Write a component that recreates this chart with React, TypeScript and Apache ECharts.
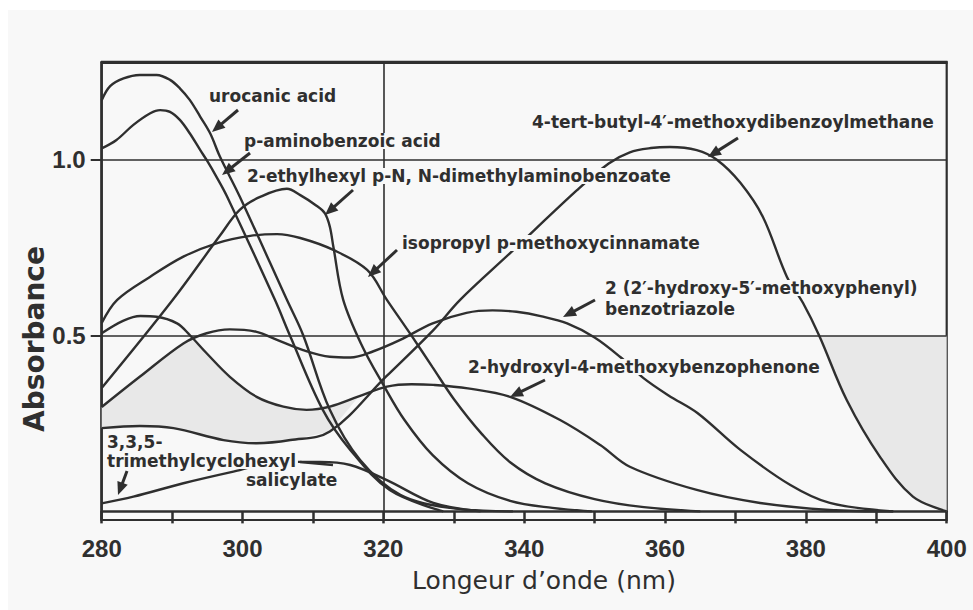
import React, { useEffect, useRef } from 'react';
import * as echarts from 'echarts';

type P = [number, number];

// ---- axes ----
const X_MIN = 280;
const X_MAX = 400;
const X_STEP = 10;
const Y_MIN = -0.0245;
const Y_MAX = 1.278;
const Y_TICK_LABELS = [0.5, 1.0];
const REF_X = [320];
const REF_Y = [0.5, 1.0];

// ---- spectra (wavelength nm, absorbance) ----
const UROCANIC: P[] = [
  [280, 1.17], [281.2, 1.21], [283.1, 1.232], [285.4, 1.242], [287.8, 1.242], [289.7, 1.228],
  [291.1, 1.204], [292.5, 1.171], [294, 1.123], [295.4, 1.076], [296.8, 1.009], [299.6, 0.896],
  [306.3, 0.602], [308.6, 0.502], [312.4, 0.289], [316.7, 0.146], [322.4, 0.047], [329.5, 0.01], [338.4, 0],
];
const PABA: P[] = [
  [280, 1.033], [282.1, 1.057], [284.5, 1.1], [286.9, 1.133], [288.3, 1.142], [289.7, 1.137],
  [291.1, 1.114], [292.5, 1.076], [294, 1.028], [294.9, 1.0], [296.3, 0.952], [297.8, 0.896],
  [304.6, 0.602], [306.7, 0.502], [311.4, 0.289], [315.3, 0.175], [320.9, 0.061], [328.5, 0],
];
const ETHYLHEXYL: P[] = [
  [280, 0.351], [290.1, 0.602], [296.8, 0.785], [299.6, 0.858], [302.5, 0.895], [306.3, 0.918],
  [308.2, 0.9], [310.5, 0.87], [311.7, 0.848], [312.4, 0.81], [312.9, 0.753], [314.3, 0.602],
  [317, 0.47], [320, 0.36], [323, 0.26], [327, 0.16], [332, 0.08], [338, 0.03], [344, 0.01], [349.6, 0],
];
const ISOPROPYL: P[] = [
  [280, 0.536], [282.2, 0.602], [286.9, 0.668], [291.6, 0.725], [296.3, 0.763], [301.1, 0.784],
  [304.9, 0.789], [308.2, 0.778], [312.9, 0.744], [317.7, 0.687], [320.5, 0.602], [324, 0.5],
  [327, 0.41], [330, 0.32], [334, 0.22], [338, 0.14], [343, 0.08], [350, 0.035], [357, 0.012], [365, 0],
];
const AVOBENZONE: P[] = [
  [280, 0.237], [285.4, 0.243], [290.2, 0.237], [297.3, 0.203], [302, 0.194], [306.8, 0.203],
  [312.4, 0.227], [320.4, 0.384], [327.1, 0.516], [330.9, 0.602], [338, 0.735], [347.5, 0.914],
  [352, 0.99], [355, 1.022], [358, 1.034], [360.7, 1.037], [364.5, 1.028], [367.4, 1.0],
  [370.7, 0.935], [373.9, 0.838], [377.3, 0.668], [379.6, 0.593], [381.9, 0.5], [385.8, 0.317],
  [390.5, 0.156], [395.2, 0.042], [400, 0],
];
const BENZOTRIAZOLE: P[] = [
  [280, 0.297], [285.4, 0.383], [291.6, 0.478], [294.9, 0.507], [298.2, 0.518], [302, 0.511],
  [304.9, 0.488], [308.6, 0.459], [312.4, 0.44], [315.3, 0.438], [318.5, 0.455], [322.4, 0.488],
  [327, 0.535], [331.8, 0.565], [335.5, 0.572], [338.9, 0.568], [342.5, 0.555], [346.1, 0.535],
  [350, 0.495], [353.6, 0.44], [356.9, 0.38], [360.5, 0.33], [364.6, 0.28], [370.7, 0.175],
  [377.8, 0.075], [383.4, 0.024], [392.4, 0],
];
const OXYBENZONE: P[] = [
  [280, 0.507], [283.1, 0.543], [285.5, 0.556], [287.8, 0.554], [290.7, 0.535], [292.5, 0.502],
  [294.9, 0.45], [298.2, 0.383], [302, 0.326], [305.8, 0.298], [309.1, 0.289], [312.4, 0.298],
  [316.5, 0.327], [320.5, 0.355], [324, 0.362], [327.1, 0.36], [332, 0.35], [338, 0.326],
  [345.1, 0.26], [350.8, 0.189], [355, 0.127], [364.5, 0.061], [373.5, 0.024], [383.4, 0.004], [392.4, 0],
];
const SALICYLATE: P[] = [
  [280, 0.023], [284.5, 0.042], [291.6, 0.08], [298.7, 0.113], [305.3, 0.141], [311, 0.141],
  [315.3, 0.132], [320.5, 0.089], [327.1, 0.024], [333.8, 0],
];

const CURVES: { name: string; data: P[] }[] = [
  { name: 'urocanic acid', data: UROCANIC },
  { name: 'p-aminobenzoic acid', data: PABA },
  { name: '2-ethylhexyl p-N, N-dimethylaminobenzoate', data: ETHYLHEXYL },
  { name: 'isopropyl p-methoxycinnamate', data: ISOPROPYL },
  { name: '4-tert-butyl-4′-methoxydibenzoylmethane', data: AVOBENZONE },
  { name: '2 (2′-hydroxy-5′-methoxyphenyl) benzotriazole', data: BENZOTRIAZOLE },
  { name: '2-hydroxyl-4-methoxybenzophenone', data: OXYBENZONE },
  { name: '3,3,5-trimethylcyclohexyl salicylate', data: SALICYLATE },
];

// ---- annotation texts (layout) ----
const LABELS = [
  { t: 'urocanic acid', x: 208, y: 96 },
  { t: 'p-aminobenzoic acid', x: 243, y: 141 },
  { t: '2-ethylhexyl p-N, N-dimethylaminobenzoate', x: 246, y: 176 },
  { t: '4-tert-butyl-4′-methoxydibenzoylmethane', x: 531, y: 122 },
  { t: 'isopropyl p-methoxycinnamate', x: 401, y: 243 },
  { t: '2 (2′-hydroxy-5′-methoxyphenyl)', x: 604, y: 288 },
  { t: 'benzotriazole', x: 604, y: 309 },
  { t: '2-hydroxyl-4-methoxybenzophenone', x: 467, y: 367 },
  { t: '3,3,5-', x: 106, y: 442 },
  { t: 'trimethylcyclohexyl', x: 106, y: 461 },
  { t: 'salicylate', x: 245, y: 480 },
];
const ARROWS: number[][] = [
  [238, 110, 212, 132],
  [250, 153, 222, 175],
  [353, 190, 325, 215],
  [738, 138, 708, 157],
  [397, 250, 368, 277],
  [595, 300, 563, 317],
  [545, 380, 510, 397],
  [127, 471, 118, 495],
];
const LEADER = [300, 462, 333, 465];

const INK = '#2f2f2f';
const BG = '#f8f8f8';
const SHADE = '#e8e8e8';

function arrowEls(a: number[]) {
  const [x1, y1, x2, y2] = a;
  const dx = x2 - x1, dy = y2 - y1;
  const len = Math.hypot(dx, dy);
  const ux = dx / len, uy = dy / len;
  const px = -uy, py = ux;
  const hl = 13, hw = 5.5;
  const bx = x2 - ux * hl, by = y2 - uy * hl;
  return [
    {
      type: 'line', z: 120, silent: true,
      shape: { x1, y1, x2: bx + ux * 2, y2: by + uy * 2 },
      style: { stroke: INK, lineWidth: 3 },
    },
    {
      type: 'polygon', z: 120, silent: true,
      shape: { points: [[x2, y2], [bx + px * hw, by + py * hw], [bx - px * hw, by - py * hw]] },
      style: { fill: INK },
    },
  ];
}

function shadeSeries(points: P[]) {
  return {
    type: 'custom',
    silent: true,
    z: 1,
    clip: true,
    data: [[X_MIN, 0]],
    renderItem: (_p: any, api: any) => ({
      type: 'polygon',
      shape: { points: points.map((p) => api.coord(p)) },
      style: { fill: SHADE },
    }),
  };
}

export default function App() {
  const ref = useRef<HTMLDivElement>(null);
  useEffect(() => {
    if (!ref.current) return;
    const chart = echarts.init(ref.current, undefined, { renderer: 'svg' });

    const shadeLeft: P[] = [
      ...BENZOTRIAZOLE.filter((p) => p[0] < 292.9),
      [292.9, 0.495],
      ...OXYBENZONE.filter((p) => p[0] > 292.9 && p[0] < 316.5),
      [316.5, 0.327],
      ...AVOBENZONE.filter((p) => p[0] < 316.5).slice().reverse(),
    ];
    const shadeRight: P[] = [
      ...AVOBENZONE.filter((p) => p[0] >= 381.9),
      [X_MAX, 0.5],
    ];

    const graphic: any[] = [
      {
        type: 'rect', z: -10, silent: true,
        shape: { x: 8, y: 10, width: 965, height: 600 },
        style: { fill: BG },
      },
      {
        type: 'line', z: 5, silent: true,
        shape: { x1: 101, y1: 62.3, x2: 947.5, y2: 62.3 },
        style: { stroke: INK, lineWidth: 3.2 },
      },
      {
        type: 'text', z: 110, silent: true,
        x: 34, y: 339, rotation: Math.PI / 2,
        style: {
          text: 'Absorbance', fill: INK, fontFamily: '"DejaVu Sans", sans-serif',
          fontWeight: 'bold', fontSize: 28, align: 'center', verticalAlign: 'middle',
        },
      },
      {
        type: 'text', z: 110, silent: true,
        x: 544, y: 580,
        style: {
          text: 'Longeur d\u2019onde (nm)', fill: INK, fontFamily: '"DejaVu Sans", sans-serif',
          fontWeight: 'normal', fontSize: 25, align: 'center', verticalAlign: 'middle',
        },
      },
      ...LABELS.map((l) => ({
        type: 'text', z: 110, silent: true,
        x: l.x, y: l.y,
        style: {
          text: l.t, fill: INK, fontFamily: '"DejaVu Sans", sans-serif', fontWeight: 'bold',
          fontSize: 17, lineHeight: 16, align: 'left', verticalAlign: 'middle',
          backgroundColor: BG, padding: [0, 2, 0, 1],
        },
      })),
      ...ARROWS.flatMap(arrowEls),
      {
        type: 'line', z: 120, silent: true,
        shape: { x1: LEADER[0], y1: LEADER[1], x2: LEADER[2], y2: LEADER[3] },
        style: { stroke: INK, lineWidth: 2.5 },
      },
    ];

    const tickFont = '"Liberation Sans", Arial, sans-serif';

    const option: any = {
      animation: false,
      backgroundColor: '#ffffff',
      grid: {
        left: 101.7, right: 26.3, top: 62.3, bottom: 90,
        show: true, borderColor: INK, borderWidth: 2.2, backgroundColor: 'transparent',
      },
      xAxis: {
        type: 'value', min: X_MIN, max: X_MAX, interval: X_STEP,
        axisLine: { show: true, lineStyle: { color: INK, width: 2.5 } },
        axisTick: { show: true, inside: false, length: 12, lineStyle: { color: INK, width: 2.5 } },
        axisLabel: {
          formatter: (v: number) => (v % 20 === 0 ? String(v) : ''),
          fontFamily: tickFont, fontWeight: 'bold', fontSize: 24, color: INK, margin: 16,
        },
        splitLine: { show: false },
      },
      yAxis: {
        type: 'value', min: Y_MIN, max: Y_MAX,
        axisLine: { show: true, lineStyle: { color: INK, width: 2.5 } },
        axisTick: { show: true, customValues: Y_TICK_LABELS, length: 11, lineStyle: { color: INK, width: 2 } },
        axisLabel: {
          customValues: Y_TICK_LABELS,
          formatter: (v: number) => v.toFixed(1),
          fontFamily: tickFont, fontWeight: 'bold', fontSize: 24, color: INK, margin: 16,
        },
        splitLine: { show: false },
      },
      graphic,
      series: [
        shadeSeries(shadeLeft),
        shadeSeries(shadeRight),
        ...CURVES.map((c, i) => ({
          type: 'line',
          name: c.name,
          data: c.data,
          smooth: 0.35,
          showSymbol: false,
          symbol: 'none',
          clip: true,
          z: 3,
          lineStyle: { color: INK, width: 2.4 },
          ...(i === 0
            ? {
                markLine: {
                  silent: true,
                  symbol: 'none',
                  label: { show: false },
                  lineStyle: { color: INK, width: 1.6, type: 'solid' },
                  data: [
                    ...REF_X.map((x) => ({ xAxis: x })),
                    ...REF_Y.map((y) => ({ yAxis: y })),
                  ],
                },
              }
            : {}),
        })),
      ],
    };
    chart.setOption(option);
    return () => chart.dispose();
  }, []);

  return (
    <div
      ref={ref}
      style={{ position: 'fixed', left: 0, top: 0, width: 973, height: 610 }}
    />
  );
}
